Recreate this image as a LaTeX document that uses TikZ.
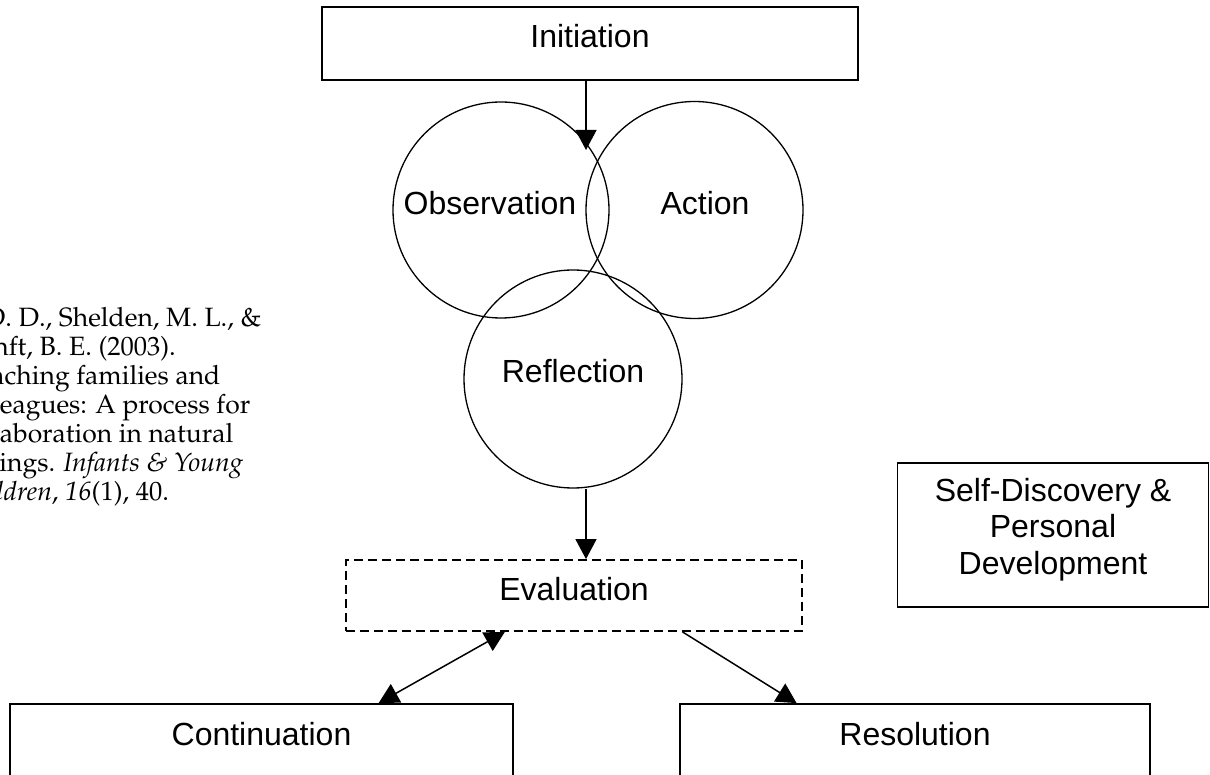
\documentclass[tikz,border=0pt]{standalone}
\usepackage[T1]{fontenc}
\usepackage{fontspec}
\setmainfont{Liberation Sans}
\usepackage{tikz}
\usetikzlibrary{positioning, calc, arrows.meta}
\tikzstyle{Arrow} = [
    line width=1.5pt,
    -{Triangle[length=20pt, width=21pt]}
]
\tikzstyle{DoubleArrow} = [
    line width=1.5pt,
    {Triangle[length=20pt, width=21pt]}-{Triangle[length=20pt, width=21pt]}
]
\newcommand{\citefont}{\fontencoding{T1}\fontfamily{ppl}\fontsize{26.5}{29}\selectfont}

\begin{document}
\begin{tikzpicture}[
x=1pt, y=-1pt,
box/.style={
    rectangle,
    draw,
    line width=1.8pt,
    inner sep=0pt,
    text height=23pt,
    text depth=14pt,
    font=\fontsize{32}{36}\selectfont
    },
note/.style={
    rectangle,
    draw,
    line width=1.8pt,
    inner sep=0pt,
    align=center,
    text depth=18pt,
    font=\fontsize{32}{36.5}\selectfont
    },
stage/.style={
    circle,
    draw,
    line width=1.3pt,
    inner sep=0pt,
    text height=23pt,
    text depth=14pt,
    font=\fontsize{32}{36}\selectfont
    }
]
\useasboundingbox (0,0) rectangle (1210,775);
\clip (0,0) rectangle (1210,775);

\node [box, minimum width=536pt, minimum height=73pt] (init) at (590,43.5) {Initiation};
\node [stage, minimum size=216pt] (obs) at (501,210) {Observation\hspace*{22pt}};
\node [stage, minimum size=217pt] (act) at (694.5,210) {\hspace*{21pt}Action};
\node [stage, minimum size=218pt, text depth=16pt] (refl) at (573,379) {Reflection};
\node [box, dash pattern=on 9pt off 5pt, minimum width=456pt, minimum height=71pt] (eval) at (574,595.5) {Evaluation};
\node [box, minimum width=503pt, minimum height=74pt] (cont) at (261.5,741) {Continuation};
\node [box, minimum width=470pt, minimum height=74pt] (res) at (915,741) {Resolution};
\node [note, minimum width=311pt, minimum height=144pt] (self) at (1053,535) {Self-Discovery \&\\Personal\\Development};

% citation, cut by the left edge
\node [anchor=base west, align=left, inner sep=0pt, font=\citefont] (ref) at (-89,500) {
    Rush, D. D., Shelden, M. L., \&\\
    \hspace*{47pt}Hanft, B. E. (2003).\\
    \hspace*{47pt}Coaching families and\\
    \hspace*{47pt}colleagues: A process for\\
    \hspace*{47pt}collaboration in natural\\
    \hspace*{47pt}settings. \textit{Infants \& Young}\\
    \hspace*{47pt}\textit{Children}, \textit{16}(1), 40.
};

\coordinate (tip) at (586,150);
\draw[Arrow] (init.south -| tip) -- (tip);
\draw[Arrow] (refl.south -| tip) -- (eval.north -| tip);

\draw[DoubleArrow] ($(cont.north west)!0.732!(cont.north east)$) -- ($(eval.south west)!0.349!(eval.south east)$);
\draw[Arrow] ($(eval.south west)!0.737!(eval.south east)$) -- ($(res.north west)!0.249!(res.north east)$);

\end{tikzpicture}
\end{document}
